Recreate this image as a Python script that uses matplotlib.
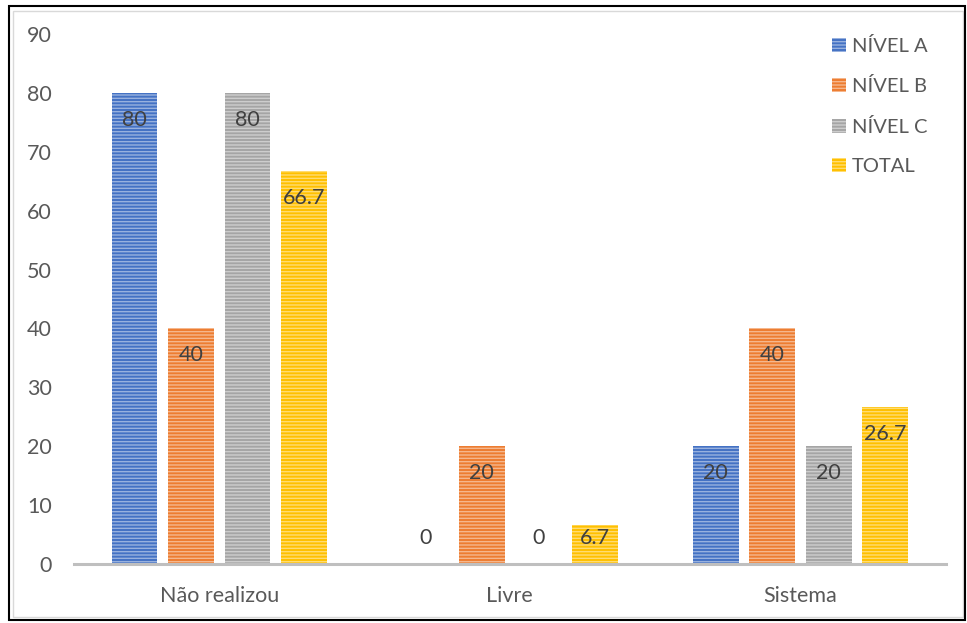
"""Grouped bar chart of completion by level, with striped bars."""

import matplotlib

matplotlib.use("Agg")

import matplotlib.pyplot as plt
import numpy as np
from matplotlib.patches import Patch, Rectangle

categories = ["Não realizou", "Livre", "Sistema"]
series_names = ["NÍVEL A", "NÍVEL B", "NÍVEL C", "TOTAL"]
nivel_a = [80, 0, 20]
nivel_b = [40, 20, 40]
nivel_c = [80, 0, 20]
total = [66.7, 6.7, 26.7]
y_ticks = [0, 10, 20, 30, 40, 50, 60, 70, 80, 90]

colors = ["#4472C4", "#ED7D31", "#A5A5A5", "#FFC000"]
stripe = (1, 1, 1, 0.45)
hatch = "-----"

plt.rcParams.update(
    {
        "font.family": ["Lato", "DejaVu Sans"],
        "hatch.linewidth": 1.0,
        "text.color": "#404040",
    }
)

fig = plt.figure(figsize=(9.67, 6.23), dpi=100)
ax = fig.add_axes([0.0765, 0.0947, 0.9015, 0.8507])

x = np.arange(len(categories))
step = 0.1944
width = 0.158
for k, (name, values) in enumerate(zip(series_names, [nivel_a, nivel_b, nivel_c, total])):
    pos = x + (k - 1.5) * step
    ax.bar(pos, values, width, color=colors[k], edgecolor=stripe,
           linewidth=0, hatch=hatch, label=name)
    for px, v in zip(pos, values):
        # labels sit just inside the bar top, but never below a minimum height
        ax.annotate(f"{v:g}", xy=(px, max(v, 9.0)), xytext=(0, -27),
                    textcoords="offset pixels", ha="center", va="center",
                    fontsize=15.5, color="#404040")

ax.set_xlim(-0.5, 2.5)
ax.set_ylim(0, 90)
ax.set_yticks(y_ticks)
ax.set_xticks(x)
ax.set_xticklabels(categories)
ax.tick_params(axis="both", length=0, labelsize=15.5, labelcolor="#595959")
ax.tick_params(axis="y", pad=16)
ax.tick_params(axis="x", pad=16)
for side in ["top", "right", "left"]:
    ax.spines[side].set_visible(False)
ax.spines["bottom"].set_color("#BFBFBF")
ax.spines["bottom"].set_linewidth(2.2)

handles = [Patch(facecolor=c, edgecolor=stripe, linewidth=0, hatch=hatch) for c in colors]
ax.legend(handles, series_names, loc="upper left",
          bbox_to_anchor=(832 / 967, 1 - 37 / 623), bbox_transform=fig.transFigure,
          frameon=False, fontsize=14.5, handlelength=0.7, handleheight=0.7,
          handletextpad=0.3, labelspacing=1.11, borderaxespad=0, borderpad=0,
          labelcolor="#595959")

# frame around the whole chart
fig.patches.append(Rectangle((13 / 967, 6 / 623), 950 / 967, 606 / 623,
                             transform=fig.transFigure, fill=False,
                             edgecolor="#D9D9D9", linewidth=1.0))
fig.patches.append(Rectangle((9 / 967, 3 / 623), 956 / 967, 614 / 623,
                             transform=fig.transFigure, fill=False,
                             edgecolor="black", linewidth=1.5))

fig.savefig("out.png", dpi=100)
